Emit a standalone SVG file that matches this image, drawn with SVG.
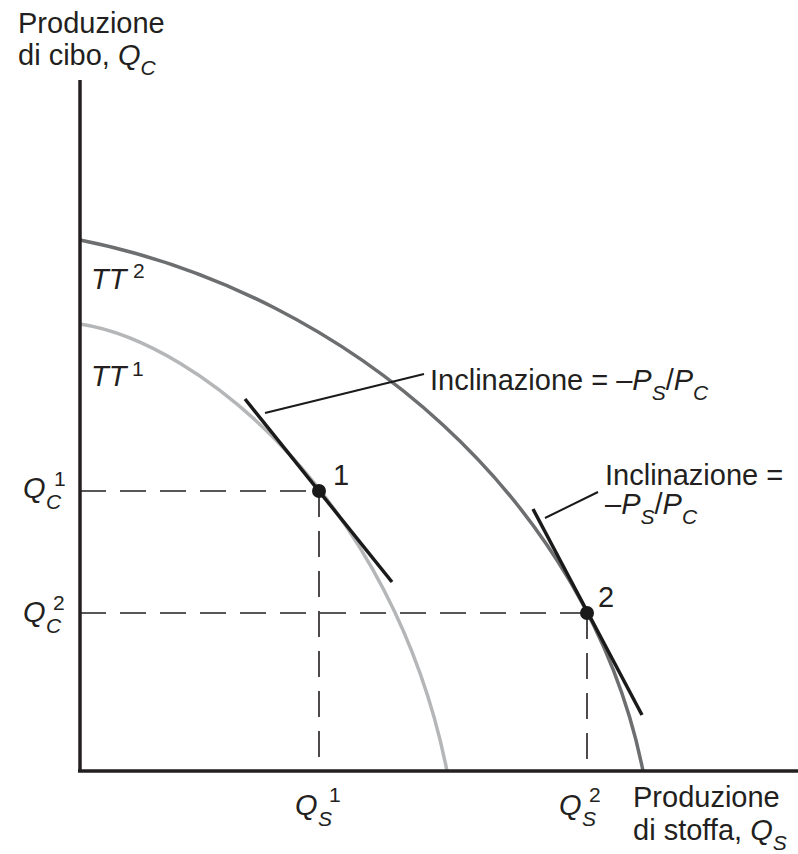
<svg xmlns="http://www.w3.org/2000/svg" width="798" height="854" viewBox="0 0 798 854">
<style>
text{font-family:"Liberation Sans",Arial,sans-serif;font-size:29px;fill:#231f20}
.i{font-style:italic}
.s{font-size:21px}
.axis{stroke:#231f20;stroke-width:3.5;fill:none}
.dash{stroke:#231f20;stroke-width:1.6;stroke-dasharray:26 14;fill:none}
.tan{stroke:#1a1a1a;stroke-width:3.5;fill:none}
.lead{stroke:#1a1a1a;stroke-width:2;fill:none}
.dot{fill:#1a1a1a}
</style>
<rect width="798" height="854" fill="#fff"/>
<g id="curves">
<path id="TT2" d="M80,240 C350,294 589,501 643,771" stroke="#6d6e70" stroke-width="3.5" fill="none"/>
<path id="TT1" d="M80,324 C200,342 393,501 447,771" stroke="#b5b6b8" stroke-width="3.5" fill="none"/>
</g>
<g id="connectors">
<line class="dash" x1="80" y1="491" x2="319" y2="491"/>
<line class="dash" x1="319" y1="491" x2="319" y2="771"/>
<line class="dash" x1="80" y1="613" x2="587" y2="613"/>
<line class="dash" x1="587" y1="613" x2="587" y2="771"/>
<line class="tan" x1="245" y1="399" x2="392" y2="582"/>
<line class="tan" x1="533" y1="509" x2="642" y2="715"/>
<line class="lead" x1="265" y1="413" x2="424" y2="374"/>
<line class="lead" x1="545" y1="518" x2="598" y2="492"/>
</g>
<g id="axes">
<line class="axis" x1="80" y1="80" x2="80" y2="772"/>
<line class="axis" x1="78" y1="771" x2="798" y2="771"/>
</g>
<g id="point1"><circle class="dot" cx="319" cy="491" r="7"/><text x="333" y="485" font-size="27">1</text></g>
<g id="point2"><circle class="dot" cx="587" cy="613" r="7"/><text x="598" y="607" font-size="27">2</text></g>
<g id="ylabel">
<text x="18" y="33">Produzione</text>
<text x="18" y="65">di cibo, <tspan class="i">Q</tspan><tspan class="i s" dy="10">C</tspan></text>
</g>
<g id="xlabel">
<text x="633" y="807">Produzione</text>
<text x="633" y="840">di stoffa, <tspan class="i">Q</tspan><tspan class="i s" dy="10">S</tspan></text>
</g>
<g id="tt2"><text x="91" y="289"><tspan class="i">TT</tspan><tspan class="s" x="133" y="278">2</tspan></text></g>
<g id="tt1"><text x="91" y="386"><tspan class="i">TT</tspan><tspan class="s" x="132" y="376">1</tspan></text></g>
<g id="qc1"><text x="23" y="498"><tspan class="i">Q</tspan><tspan class="i s" x="46" y="509">C</tspan><tspan class="s" x="54" y="486">1</tspan></text></g>
<g id="qc2"><text x="23" y="622"><tspan class="i">Q</tspan><tspan class="i s" x="46" y="633">C</tspan><tspan class="s" x="53" y="610">2</tspan></text></g>
<g id="qs1"><text x="295" y="815"><tspan class="i">Q</tspan><tspan class="i s" x="318" y="826">S</tspan><tspan class="s" x="329" y="802">1</tspan></text></g>
<g id="qs2"><text x="559" y="815"><tspan class="i">Q</tspan><tspan class="i s" x="582" y="826">S</tspan><tspan class="s" x="589" y="802">2</tspan></text></g>
<g id="label1"><text x="430" y="390">Inclinazione = –<tspan class="i">P</tspan><tspan class="i s" dy="10">S</tspan><tspan dy="-10">/</tspan><tspan class="i">P</tspan><tspan class="i s" dy="10">C</tspan></text></g>
<g id="label2">
<text x="605" y="485">Inclinazione =</text>
<text x="605" y="514">–<tspan class="i">P</tspan><tspan class="i s" dy="10">S</tspan><tspan dy="-10">/</tspan><tspan class="i">P</tspan><tspan class="i s" dy="10">C</tspan></text>
</g>
</svg>
